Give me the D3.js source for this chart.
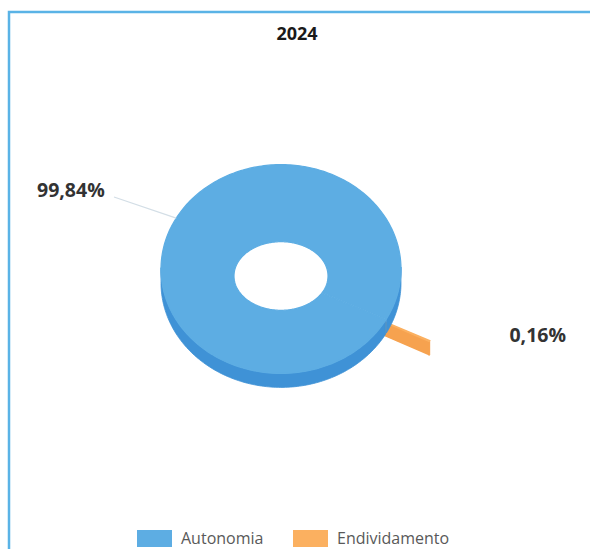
<!DOCTYPE html>
<html>
<head>
<meta charset="utf-8">
<script src="https://cdn.jsdelivr.net/npm/d3@7"></script>
<style>
  html, body { margin: 0; padding: 0; background: #fff; }
  svg { display: block; }
</style>
</head>
<body>
<svg id="chart"></svg>
<script>
// chart data
const title = "2024";
const categories = ["Autonomia", "Endividamento"];
const values = [99.84, 0.16];
const valueLabels = ["99,84%", "0,16%"];

const W = 590, H = 549;
const topColors = ["#5dade3", "#fbb060"];
const sideColors = ["#3f92d6", "#f6a24f"];

const svg = d3.select("#chart").attr("width", W).attr("height", H);

// frame
svg.append("rect")
    .attr("x", 9).attr("y", 12)
    .attr("width", 600).attr("height", 600)
    .attr("fill", "#fff")
    .attr("stroke", "#5ab3e6")
    .attr("stroke-width", 2.5);

svg.append("text")
    .attr("x", 297).attr("y", 40)
    .attr("text-anchor", "middle")
    .style("font-family", "'Open Sans', sans-serif")
    .style("font-weight", "bold")
    .style("font-size", "18px")
    .attr("fill", "#1a1a1a")
    .text(title);

// 3d donut geometry
const CX = 281, RO = 120, RI = 47, DEPTH = 14;
const CY_OUT = 269, CY_IN = 276, K_OUT = 0.87, K_IN = 0.73;
const EXPLODE = [0, 50];

// first slice angle turned like in the source workbook
const pie = d3.pie().sort(null)
    .startAngle(2.085)
    .endAngle(2.085 + 2 * Math.PI);
const arcs = pie(values);

function theta(a) { return a - Math.PI / 2; }

function proj(r, a, z, off) {
    const t = Math.max(0, Math.min(1, (r - RI) / (RO - RI)));
    const cy = CY_IN + (CY_OUT - CY_IN) * t;
    const k = K_IN + (K_OUT - K_IN) * t;
    const th = theta(a);
    return [CX + r * Math.cos(th) + off[0], cy + r * k * Math.sin(th) + z + off[1]];
}

function arcPts(r, a0, a1, z, off) {
    const n = Math.max(2, Math.ceil(Math.abs(a1 - a0) / 0.02));
    return d3.range(n + 1).map(i => proj(r, a0 + (a1 - a0) * i / n, z, off));
}

const line = d3.line().curve(d3.curveLinear);
const poly = pts => line(pts) + "Z";

function offsetOf(d, i) {
    const e = EXPLODE[i];
    const th = theta((d.startAngle + d.endAngle) / 2);
    return [e * Math.cos(th), e * K_OUT * Math.sin(th)];
}

// exploded small slice is painted first, the big ring covers its inner part
const order = [1, 0];
order.forEach(i => {
    const d = arcs[i];
    const off = offsetOf(d, i);
    const g = svg.append("g").attr("class", "slice slice-" + i);
    const a0 = d.startAngle, a1 = d.endAngle;

    // outer wall, only the front half shows
    const segs = [];
    const step = 0.01;
    let cur = null;
    for (let a = a0; a <= a1 + 1e-9; a += step) {
        const s = Math.sin(theta(a));
        if (s > -0.02) {
            if (!cur) { cur = [a, a]; segs.push(cur); }
            cur[1] = Math.min(a, a1);
        } else cur = null;
    }
    segs.forEach(sg => {
        const topPts = arcPts(RO, sg[0], sg[1], 0, off);
        const botPts = arcPts(RO, sg[1], sg[0], DEPTH, off);
        g.append("path")
            .attr("d", poly(topPts.concat(botPts)))
            .attr("fill", sideColors[i])
            .attr("stroke", sideColors[i])
            .attr("stroke-width", 0.8);
    });

    // radial end walls (visible for the thin slice)
    if (i === 1) {
        [a0, a1].forEach(a => {
            g.append("path")
                .attr("d", poly([proj(RI, a, 0, off), proj(RO, a, 0, off),
                    proj(RO, a, DEPTH, off), proj(RI, a, DEPTH, off)]))
                .attr("fill", sideColors[i]);
        });
    }

    // top face
    const outer = arcPts(RO, a0, a1, 0, off);
    const inner = arcPts(RI, a1, a0, 0, off);
    g.append("path")
        .attr("d", poly(outer.concat(inner)))
        .attr("fill", topColors[i])
        .attr("stroke", topColors[i])
        .attr("stroke-width", 1.2);
});

// data labels
const labelPos = [[37, 197, "start"], [566, 342, "end"]];
arcs.forEach((d, i) => {
    svg.append("text")
        .attr("x", labelPos[i][0]).attr("y", labelPos[i][1])
        .attr("text-anchor", labelPos[i][2])
        .style("font-family", "'Open Sans', sans-serif")
        .style("font-weight", "bold")
        .style("font-size", "19.5px")
        .attr("fill", "#333")
        .text(valueLabels[i]);
});

// leader line for the big slice
const mid0 = (arcs[0].startAngle + arcs[0].endAngle) / 2;
const edge = proj(RO, mid0, 0, [0, 0]);
svg.append("path")
    .attr("d", line([[114, 197], edge]))
    .attr("stroke", "#d3dee6")
    .attr("stroke-width", 1.2)
    .attr("fill", "none");

// legend
const legendX = [137, 293];
const leg = svg.selectAll(".leg").data(categories).enter().append("g")
    .attr("class", "leg")
    .attr("transform", (d, i) => "translate(" + legendX[i] + ",530)");
leg.append("rect")
    .attr("width", 35).attr("height", 17)
    .attr("fill", (d, i) => topColors[i]);
leg.append("text")
    .attr("x", 44).attr("y", 14)
    .style("font-family", "'Open Sans', sans-serif")
    .style("font-size", "16px")
    .attr("fill", "#595959")
    .text(d => d);
</script>
</body>
</html>
